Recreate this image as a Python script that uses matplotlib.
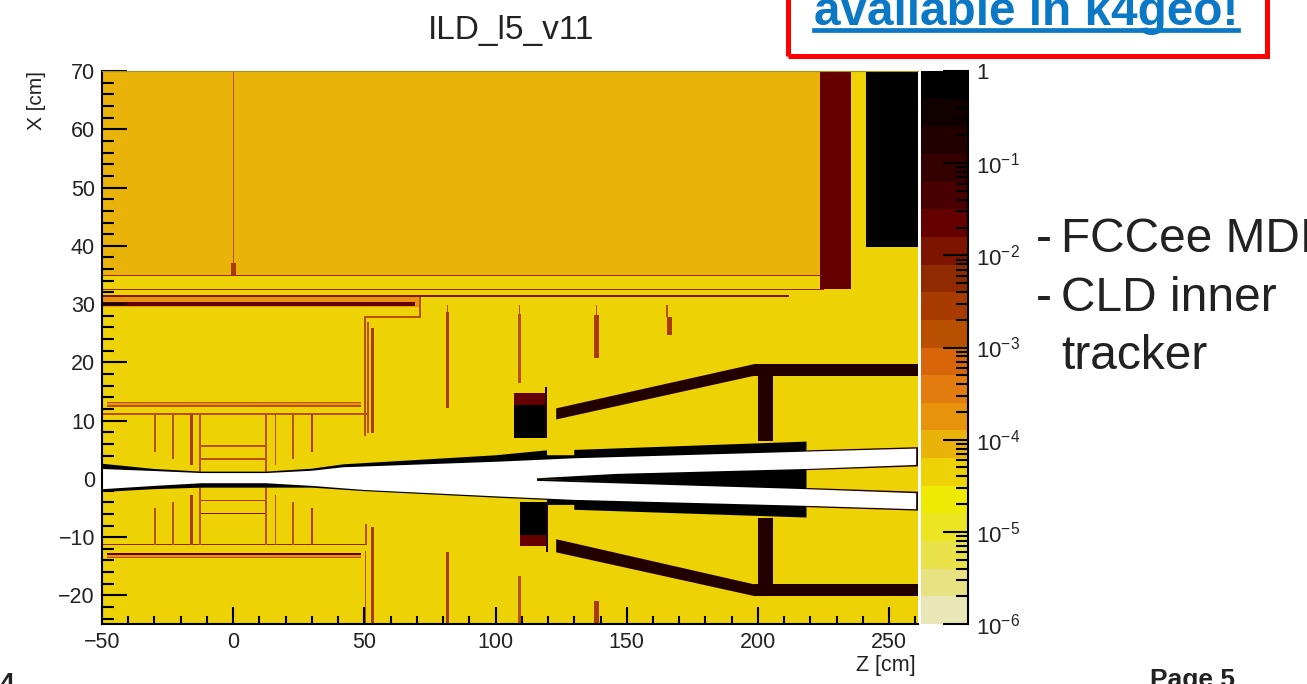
#!/usr/bin/env python3
"""Material map of the detector (X vs Z) with a log colour scale, slide style"""
import matplotlib
matplotlib.use('Agg')
import matplotlib.pyplot as plt
from matplotlib.collections import PatchCollection
from matplotlib.colors import ListedColormap, LogNorm
from matplotlib.lines import Line2D
from matplotlib.patches import Polygon, Rectangle
from matplotlib.ticker import FixedLocator, NullFormatter

plt.rcParams['font.family'] = ['Liberation Sans', 'DejaVu Sans']
plt.rcParams['mathtext.fontset'] = 'custom'
plt.rcParams['mathtext.rm'] = 'Liberation Sans'
plt.rcParams['axes.unicode_minus'] = True

W, H = 1307, 684

# colour bands of the scale, from 1e-6 up to 1
band_colors = ['#e9e6b8', '#e9e282', '#e9e24a', '#ece622', '#eeea04', '#edd205', '#e9b30a',
               '#e8930c', '#e27c0e', '#d8650a', '#b85000', '#a83c00', '#902a00', '#7c1400',
               '#640000', '#480000', '#340000', '#220000', '#100000', '#000000']

# material values
AIR = 4.5e-5
BARREL = 8.9e-5
ORANGE = 1.8e-4
THIN = 1.4e-3
THICK = 2.8e-3
DARK = 5.6e-3
REDDER = 1.1e-2
IRON = 2.2e-2
CONE = 1.8e-1
BLACK = 0.7

# (z0, z1, x0, x1, value) in cm
outer_regions = [
    (-50, 223.8, 35.0, 70, BARREL),
    (223.8, 235.5, 32.6, 70, IRON),
    (241.2, 261, 39.8, 70, BLACK),
    (-50, 224.5, 34.85, 35.05, DARK),
    (-50, 225, 32.45, 32.65, DARK),
    (-50, 71.3, 29.5, 31.3, ORANGE),
    (-50, 212, 31.15, 31.55, REDDER),
    (-50, 69.4, 29.65, 30.3, IRON),
    (-0.25, 0.25, 35, 70, THIN),
    (-0.9, 0.9, 35, 37.1, THICK),
]
service_lines = [
    (71.0, 71.5, 27.7, 31.2, THIN),
    (50.1, 71.5, 27.65, 27.9, THIN),
    (50.0, 50.7, 7.3, 27.9, THIN),
    (51.1, 51.6, 7.9, 27.0, THIN),
    (52.6, 53.6, 7.9, 25.9, THICK),
    (81.5, 81.9, 28.7, 29.8, THIN),
    (81.2, 82.1, 12.1, 28.7, THICK),
    (108.9, 109.3, 28.3, 29.8, THIN),
    (108.7, 109.8, 16.4, 28.3, THIN),
    (138.2, 138.6, 28.1, 29.8, THIN),
    (137.5, 139.3, 20.7, 28.1, THICK),
    (165.0, 165.7, 27.8, 29.8, THIN),
    (165.4, 167.3, 24.7, 27.8, THICK),
    (50.1, 51.1, -11.3, -7.7, THIN),
    (50.1, 50.8, -25, -12.4, THIN),
    (52.6, 53.6, -25, -8.2, THICK),
    (81.2, 82.1, -25, -12.5, THICK),
    (108.7, 109.8, -25, -16.6, THIN),
    (137.5, 139.3, -25, -20.9, THICK),
]
tracker_barrel = [
    (-48, 48.7, 12.5, 13.15, ORANGE),
    (-48, 48.7, 13.05, 13.25, THIN),
    (-48, 48.7, 12.35, 12.6, THIN),
    (-50, 51, 11.05, 11.3, THIN),
    (-48, 48.7, -13.5, -12.7, ORANGE),
    (-48, 48.7, -13.1, -12.65, IRON),
    (-48, 48.7, -13.55, -13.35, THIN),
    (-50, 50.5, -11.4, -11.15, DARK),
    (-12.6, 12.5, 5.55, 5.8, THIN),
    (-12.6, 12.5, 3.3, 3.55, THIN),
    (-12.6, 12.5, -3.85, -3.55, THICK),
    (-12.6, 12.5, -6.1, -5.8, REDDER),
]
# (z, half width, inner end, outer end)
tracker_disks = [
    (-29.7, 0.3, 4.7, 11.1), (-23.0, 0.3, 3.5, 11.1), (-15.8, 0.55, 2.4, 11.1),
    (-12.6, 0.35, 1.1, 11.1), (12.5, 0.35, 1.1, 11.1), (16.1, 0.3, 2.4, 11.1),
    (22.9, 0.3, 3.5, 11.1), (30.1, 0.5, 4.7, 11.1),
    (-29.7, 0.3, -11.3, -5.0), (-23.0, 0.3, -11.3, -3.9), (-15.8, 0.55, -11.3, -2.7),
    (-12.6, 0.35, -11.3, -1.4), (12.5, 0.35, -11.3, -1.4), (16.1, 0.3, -11.3, -2.7),
    (22.9, 0.3, -11.3, -3.9), (30.1, 0.5, -11.3, -5.0),
]
nose_blocks = [
    (107.1, 119, 7.0, 12.7, BLACK),
    (107.1, 119, 12.7, 14.7, IRON),
    (118.8, 119.6, 7.0, 15.8, CONE),
    (109.4, 120, -9.7, -3.9, BLACK),
    (109.4, 120, -11.6, -9.7, IRON),
    (119.2, 120.0, -12.5, -3.9, CONE),
    (200.2, 205.8, 6.5, 19.7, CONE),
    (198.6, 261, 17.7, 19.7, CONE),
    (200.2, 205.8, -20.1, -6.75, CONE),
    (198.6, 261, -20.1, -18.1, CONE),
]
cone_upper = [(123.1, 10.2), (123.1, 12.1), (198.6, 19.7), (204, 19.7), (204, 17.7), (198.6, 17.7)]
cone_lower = [(123.1, -10.35), (123.1, -12.6), (198.6, -20.1), (204, -20.1), (204, -18.1), (198.6, -18.1)]

# beam pipe walls and inner wedge
wall_upper = [(-50, 2.6), (-30, 1.7), (-12, 1.25), (12.5, 1.25), (30, 1.75), (42, 2.5), (100, 4.05),
              (119.6, 4.9), (119.6, 4.06), (130, 4.06), (130, 4.97), (218.5, 6.4), (218.5, 1.5),
              (115.8, 0), (-50, 0)]
wall_lower = [(-50, -2.25), (-30, -1.75), (-12, -1.5), (12.5, -1.5), (30, -1.5), (50, -2.1),
              (101.8, -3.25), (119.6, -3.6), (119.6, -4.46), (130, -4.46), (130, -5.3),
              (218.5, -6.63), (218.5, -1.6), (115.8, 0), (-50, 0)]
wedge = [(115.8, 0), (146, 1), (218.5, 1.9), (218.5, -1.9)]
tube_upper = [(218.5, 4.9), (261, 5.45), (261, 2.15), (218.5, 1.5)]
tube_lower = [(218.5, -1.55), (261, -2.2), (261, -5.45), (218.5, -4.85)]

# the empty (white) beam pipe
pipe_outline = [(-50, 1.7), (-30, 1.35), (-12, 1.0), (12.5, 1.0), (30, 1.4), (42, 2.0), (101.8, 2.97),
                (130, 3.54), (219, 4.69), (260.3, 5.2), (260.3, 2.4), (219, 1.71), (146, 0.86),
                (115.8, 0.11), (115.8, -0.34), (219, -1.77), (260.3, -2.46), (260.3, -5.2),
                (219, -4.63), (130, -3.6), (101.8, -3.03), (50, -1.9), (30, -1.2), (12.5, -0.74),
                (-12, -0.74), (-30, -1.2), (-50, -1.77)]

x_ticks = [-50, 0, 50, 100, 150, 200, 250]
y_ticks = [-20, -10, 0, 10, 20, 30, 40, 50, 60, 70]
cbar_ticks = [1e-6, 1e-5, 1e-4, 1e-3, 1e-2, 1e-1, 1]
cbar_labels = ['$10^{-6}$', '$10^{-5}$', '$10^{-4}$', '$10^{-3}$', '$10^{-2}$', '$10^{-1}$', '1']


def fig_rect(x0, y0, x1, y1):
    # pixel box, y measured from the top of the image
    return [x0 / W, 1 - y1 / H, (x1 - x0) / W, (y1 - y0) / H]


fig = plt.figure(figsize=(W / 100, H / 100), dpi=100)
ax = fig.add_axes(fig_rect(102, 71, 918, 624))
cax = fig.add_axes(fig_rect(921, 71, 968, 624))

cmap = ListedColormap(band_colors)
norm = LogNorm(1e-6, 1)

ax.set_facecolor(cmap(norm(AIR)))
ax.set_xlim(-50, 261)
ax.set_ylim(-24.9, 70)

patches, values = [], []
for z0, z1, x0, x1, val in outer_regions + service_lines + tracker_barrel + nose_blocks:
    patches.append(Rectangle((z0, x0), z1 - z0, x1 - x0))
    values.append(val)
for z, half, x0, x1 in tracker_disks:
    patches.append(Rectangle((z - half, x0), 2 * half, x1 - x0))
    values.append(THICK if half > 0.4 else THIN)
for outline, val in [(cone_upper, CONE), (cone_lower, CONE), (wall_upper, BLACK), (wall_lower, BLACK),
                     (wedge, BLACK), (tube_upper, CONE), (tube_lower, CONE)]:
    patches.append(Polygon(outline, closed=True))
    values.append(val)

coll = PatchCollection(patches, cmap=cmap, norm=norm, linewidths=0, zorder=1)
coll.set_array(values)
ax.add_collection(coll)
ax.add_patch(Polygon(pipe_outline, closed=True, facecolor='white', edgecolor='none', zorder=2))

# ROOT style axes
ax.spines['top'].set_color('#a89020')
ax.spines['top'].set_linewidth(0.8)
ax.spines['right'].set_visible(False)
ax.spines['left'].set_linewidth(1.5)
ax.spines['bottom'].set_linewidth(1.5)
ax.set_xticks(x_ticks)
ax.set_yticks(y_ticks)
ax.xaxis.set_minor_locator(FixedLocator(range(-50, 261, 10)))
ax.yaxis.set_minor_locator(FixedLocator(range(-24, 71, 2)))
ax.tick_params(axis='x', which='major', direction='in', length=12.5, width=1.5, labelsize=15.5, pad=6)
ax.tick_params(axis='x', which='minor', direction='in', length=6, width=1.5)
ax.tick_params(axis='y', which='major', direction='in', length=18, width=1.5, labelsize=15.5, pad=5)
ax.tick_params(axis='y', which='minor', direction='in', length=8.5, width=1.5)
for tl in ax.get_xticklabels() + ax.get_yticklabels():
    tl.set_color('#222222')

cbar = fig.colorbar(coll, cax=cax)
cbar.outline.set_visible(False)
cbar.solids.set_antialiased(False)
cax.spines['right'].set_visible(True)
cax.spines['right'].set_linewidth(1.5)
cax.yaxis.set_ticks_position('right')
cax.set_yticks(cbar_ticks)
cax.set_yticklabels(cbar_labels)
cax.yaxis.set_minor_locator(FixedLocator([m * 10.0 ** e for e in range(-6, 0) for m in range(2, 10)]))
cax.yaxis.set_minor_formatter(NullFormatter())
cax.tick_params(axis='y', which='major', direction='in', length=18, width=1.5, labelsize=16, pad=6,
                labelcolor='#222222', right=True, left=False)
cax.tick_params(axis='y', which='minor', direction='in', length=9, width=1.5, right=True, left=False)

# labels placed like on the slide
fig.text(511 / W, 1 - 31 / H, 'ILD_l5_v11', fontsize=24, color='#222222', ha='center', va='center')
fig.text(36 / W, 1 - 71 / H, 'X [cm]', fontsize=15, color='#222222', rotation=90, ha='center', va='top')
fig.text(916 / W, 1 - 666 / H, 'Z [cm]', fontsize=15.5, color='#222222', ha='right', va='center')

fig.add_artist(Rectangle((787.5 / W, 1 - 55.5 / H), 479 / W, 70 / H, transform=fig.transFigure,
                         fill=False, edgecolor='#ff0000', linewidth=3.6))
fig.text(1026.5 / W, 1 - 25 / H, 'available in k4geo!', fontsize=34.4, fontweight='bold', color='#0b78c6',
         ha='center', va='baseline')
fig.add_artist(Line2D([814 / W, 1238 / W], [1 - 29.5 / H] * 2, color='#0b78c6', linewidth=3.4))

side_text = [(1036, 252, '-'), (1061, 252, 'FCCee MDI'), (1036, 311, '-'), (1061, 311, 'CLD inner'),
             (1061, 369, 'tracker')]
for px, py, txt in side_text:
    fig.text(px / W, 1 - py / H, txt, fontsize=34.5, color='#222222', ha='left', va='baseline')

fig.text(0, 1 - 691 / H, '4', fontsize=19, fontweight='bold', color='#222222', ha='left', va='baseline')
fig.text(1235 / W, 1 - 687 / H, 'Page 5', fontsize=19, fontweight='bold', color='#222222',
         ha='right', va='baseline')

fig.savefig('out.png', dpi=100)
